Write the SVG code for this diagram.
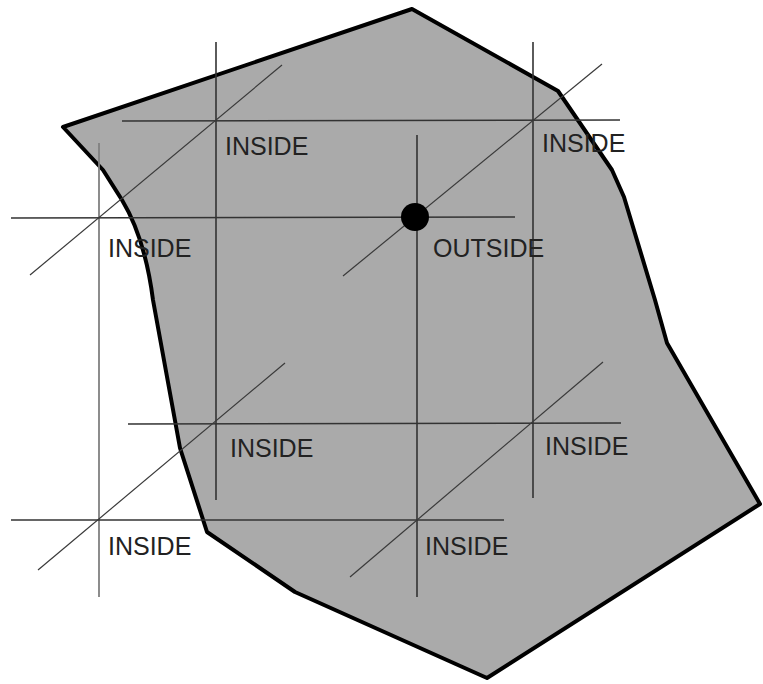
<svg xmlns="http://www.w3.org/2000/svg" width="763" height="684" viewBox="0 0 763 684">
<style>
.g{stroke:#333;stroke-width:1.6;fill:none}
.gl{stroke:#808080;stroke-width:1.8;fill:none}
.d{stroke:#3a3a3a;stroke-width:1.2;fill:none}
.t{font-family:"Liberation Sans",Arial,sans-serif;font-size:25px;fill:#222}
</style>
<rect width="763" height="684" fill="#fff"/>
<g id="region">
<path d="M63,127 L412,9 L558,91 L612,170 L624,197 L655,300 L667,343 L760,504 L487,678 L295,592 L207,532 L180,448 L153,300 Q145,238 122,200 L103,170 Z" fill="#aaaaaa" stroke="#000" stroke-width="4" stroke-linejoin="round"/>
</g>
<g id="grid">
<line class="gl" x1="99" y1="143" x2="99" y2="597"/>
<line class="g" x1="216" y1="42" x2="216" y2="500"/>
<line class="g" x1="417" y1="135" x2="417" y2="597"/>
<line class="g" x1="533" y1="42" x2="533" y2="498"/>
<line class="g" x1="122" y1="121" x2="620" y2="120"/>
<line class="g" x1="11" y1="218" x2="515" y2="217"/>
<line class="g" x1="128" y1="424" x2="621" y2="423"/>
<line class="g" x1="11" y1="520" x2="504" y2="520"/>
<line class="d" x1="30" y1="275" x2="282" y2="65"/>
<line class="d" x1="343" y1="276" x2="602" y2="64"/>
<line class="d" x1="38" y1="570" x2="285" y2="363"/>
<line class="d" x1="350" y1="577" x2="603" y2="362"/>
</g>
<g id="point">
<circle cx="415" cy="217" r="14" fill="#000"/>
</g>
<g id="labels">
<text class="t" x="225" y="155">INSIDE</text>
<text class="t" x="542" y="152">INSIDE</text>
<text class="t" x="108" y="257">INSIDE</text>
<text class="t" x="433" y="257">OUTSIDE</text>
<text class="t" x="230" y="457">INSIDE</text>
<text class="t" x="545" y="455">INSIDE</text>
<text class="t" x="108" y="555">INSIDE</text>
<text class="t" x="425" y="555">INSIDE</text>
</g>
</svg>
